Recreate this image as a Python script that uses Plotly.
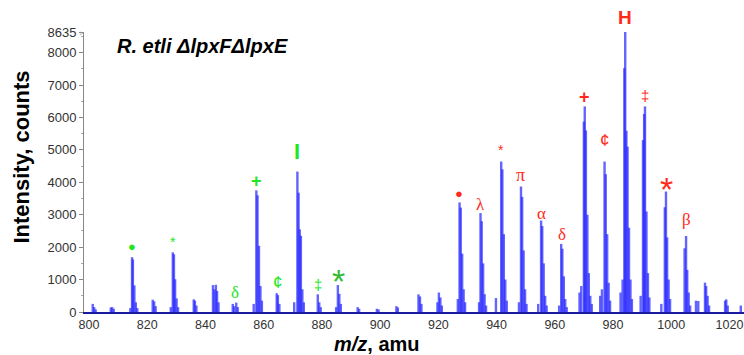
import plotly.graph_objects as go

# ---- data: centroid peaks (m/z, intensity counts) ----
peak_mz = [
    800.6, 801.1, 801.6,
    806.8, 807.3, 807.8,
    813.5, 814.1, 814.4, 814.9, 815.4, 815.9,
    821.2, 821.7, 822.2,
    827.4, 828.1, 828.5, 828.9, 829.4, 829.9,
    835.3, 835.7, 836.2,
    841.9, 842.4, 842.9, 843.3, 843.8,
    848.7, 849.2, 849.9, 850.4,
    855.9, 856.8, 857.2, 857.7, 858.2, 858.7,
    863.8, 864.2, 864.7,
    869.8, 870.9, 871.3, 871.7, 872.1, 872.6, 873.1,
    877.9, 878.4, 878.9,
    884.2, 884.8, 885.3, 885.8,
    891.6, 892.1,
    898.2, 898.8,
    904.9, 905.4,
    912.5, 913.0, 913.5,
    919.0, 919.5, 920.0, 920.5,
    926.0, 926.6, 927.0, 927.5, 928.0, 928.5,
    933.3, 933.8, 934.2, 934.7, 935.2, 935.7,
    939.1, 940.9, 941.3, 941.8, 942.3, 942.8,
    947.0, 947.7, 948.1, 948.6, 949.1, 949.6,
    953.6, 954.6, 955.0, 955.5, 956.0, 956.5,
    960.8, 961.5, 961.9, 962.4, 962.9, 963.4,
    967.8, 968.4, 969.3, 969.6, 970.0, 970.5, 971.0, 971.5, 972.0,
    974.9, 975.5, 976.4, 976.8, 977.3, 977.8, 978.3,
    981.9, 982.6, 983.2, 983.5, 983.9, 984.3, 984.8, 985.3, 985.8,
    988.8, 989.6, 990.0, 990.3, 990.8, 991.3, 991.8,
    995.9, 997.1, 997.5, 997.9, 998.4, 998.9,
    1003.9, 1004.4, 1004.8, 1005.3, 1005.8,
    1007.8, 1008.6,
    1010.9, 1011.3, 1011.8, 1012.3,
    1017.8, 1018.2, 1018.7,
    1023.2,
]
peak_int = [
    250, 150, 80,
    140, 150, 100,
    120, 1690, 1620, 820, 300, 120,
    380, 330, 180,
    150, 1840, 1780, 1010, 420, 150,
    390, 350, 200,
    830, 700, 840, 650, 300,
    250, 180, 290, 150,
    250, 3750, 3600, 2040, 800, 350,
    580, 520, 250,
    300, 4330, 3680, 2550, 2350, 700, 300,
    545, 300, 150,
    150, 830, 560, 250,
    150, 100,
    100, 80,
    180, 140,
    545, 480, 250,
    300, 600, 450, 200,
    400, 3380, 3220, 1800, 700, 300,
    300, 3050, 2800, 1500, 550, 200,
    430, 4640, 4400, 2400, 1000, 350,
    300, 3870, 3550, 1900, 700, 250,
    250, 2820, 2650, 1500, 500, 200,
    200, 2100, 1950, 1100, 400, 150,
    600, 800, 5870, 6340, 5600, 3000, 1200, 500, 250,
    500, 700, 4640, 4250, 2400, 900, 350,
    600, 1000, 7520, 8635, 5590, 5100, 2600, 1000, 400,
    500, 5300, 6110, 6340, 3100, 1200, 450,
    250, 3230, 3715, 2300, 1000, 400,
    1965, 2345, 1300, 600, 200,
    350, 340,
    905, 800, 500, 200,
    350, 390, 200,
    200,
]

# ---- peak labels (the "H" sits above the top of the axis) ----
label_text = ["●", "*", "δ", "+", "¢", "I", "‡", "*",
              "●", "λ", "*", "π", "α", "δ", "+", "¢", "H", "‡", "*", "β"]
label_mz = [814.1, 828.0, 849.6, 856.7, 863.9, 870.9, 878.0, 884.9,
            926.3, 933.7, 940.8, 947.7, 954.6, 961.8, 969.5, 976.5, 983.5, 990.2, 997.7, 1004.4]
label_y = [2015, 2150, 610, 4040, 905, 4940, 833, 950,
           3640, 3320, 5000, 4210, 3045, 2400, 6645, 5290, 9090, 6680, 3800, 2840]

GREEN = "#22e622"
GREEN2 = "#33bb33"
RED = "#ff2a1a"
label_color = [GREEN] * 7 + [GREEN2] + [RED] * 12
label_size = [13, 14, 17, 18, 17, 22, 15, 34,
              13, 17, 14, 18, 17, 17, 18, 17, 19, 15, 34, 17]
label_font = ["Liberation Sans", "Liberation Sans", "Liberation Serif", "Liberation Sans",
              "Liberation Sans", "Liberation Sans", "Liberation Sans", "Liberation Sans",
              "Liberation Sans", "Liberation Serif", "Liberation Sans", "Liberation Serif",
              "Liberation Serif", "Liberation Serif", "Liberation Sans", "Liberation Sans",
              "Liberation Sans", "Liberation Sans", "Liberation Sans", "Liberation Serif"]
label_bold = [False, False, False, True, False, True, False, False,
              False, False, False, False, False, False, True, False, True, False, False, False]

y_tickvals = [0, 1000, 2000, 3000, 4000, 5000, 6000, 7000, 8000, 8635]
x_tickvals = [800, 820, 840, 860, 880, 900, 920, 940, 960, 980, 1000, 1020]
Y_MAX = 8635

# ---- build stick segments from peak list ----
xs, ys = [], []
for m, h in zip(peak_mz, peak_int):
    xs += [m, m, None]
    ys += [0, h, None]

fig = go.Figure()
fig.add_trace(go.Scatter(x=xs, y=ys, mode="lines",
                         line=dict(color="rgba(40,40,255,0.72)", width=2.4),
                         hoverinfo="skip", showlegend=False))

for t, m, yv, c, s, f, b in zip(label_text, label_mz, label_y, label_color,
                                label_size, label_font, label_bold):
    if yv > Y_MAX:
        # outside the data range: place relative to the plot area instead
        ann = dict(y=yv / Y_MAX, yref="paper", borderpad=0)
    else:
        ann = dict(y=yv, yref="y")
    fig.add_annotation(x=m, text=f"<b>{t}</b>" if b else t, showarrow=False,
                       font=dict(color=c, size=s, family=f),
                       xanchor="center", yanchor="middle", **ann)

fig.add_annotation(xref="paper", yref="paper", x=0.047, y=0.951,
                   text="<b><i>R. etli ΔlpxFΔlpxE</i></b>", showarrow=False,
                   xanchor="left", yanchor="middle",
                   font=dict(size=20, color="black", family="Liberation Sans"))
fig.add_annotation(xref="paper", yref="paper", x=-0.094, y=0.555,
                   text="<b>Intensity, counts</b>", textangle=-90, showarrow=False,
                   xanchor="center", yanchor="middle",
                   font=dict(size=22, color="black", family="Liberation Sans"))
fig.add_annotation(xref="paper", yref="paper", x=0.444, y=-0.115,
                   text="<b><i>m/z</i>, amu</b>", showarrow=False,
                   xanchor="center", yanchor="middle",
                   font=dict(size=20, color="black", family="Liberation Sans"))
fig.add_annotation(xref="paper", yref="paper", x=-0.003, y=1.0,
                   text="▹", showarrow=False, xanchor="center", yanchor="middle",
                   font=dict(size=7, color="#999999"))

fig.update_layout(
    width=744, height=355,
    margin=dict(l=84, r=0, t=32, b=43, autoexpand=False),
    paper_bgcolor="white", plot_bgcolor="white",
    font=dict(family="Liberation Sans", color="#333333", size=13),
    xaxis=dict(range=[797.6, 1024.3], tickvals=x_tickvals, showgrid=False,
               zeroline=False, showline=True, linecolor="#1a1aa0", linewidth=2,
               ticks="", ticklabeloverflow="allow", automargin=False,
               ticklabelshift=-2,
               tickfont=dict(size=12.5, color="#333333")),
    yaxis=dict(range=[0, Y_MAX], tickvals=y_tickvals, showgrid=False,
               zeroline=False, showline=True, linecolor="#888888", linewidth=1,
               ticks="outside", ticklen=4, tickcolor="#888888", automargin=False,
               minor=dict(ticks="outside", ticklen=2, dtick=500, tickcolor="#aaaaaa"),
               tickfont=dict(size=13, color="#333333")),
)

# remove the browser's default 8px page margin so the figure fills the window
fig.write_html("out.html",
               config=dict(displayModeBar=False, staticPlot=True),
               post_script="document.body.style.margin='0';document.body.style.overflow='hidden';")
